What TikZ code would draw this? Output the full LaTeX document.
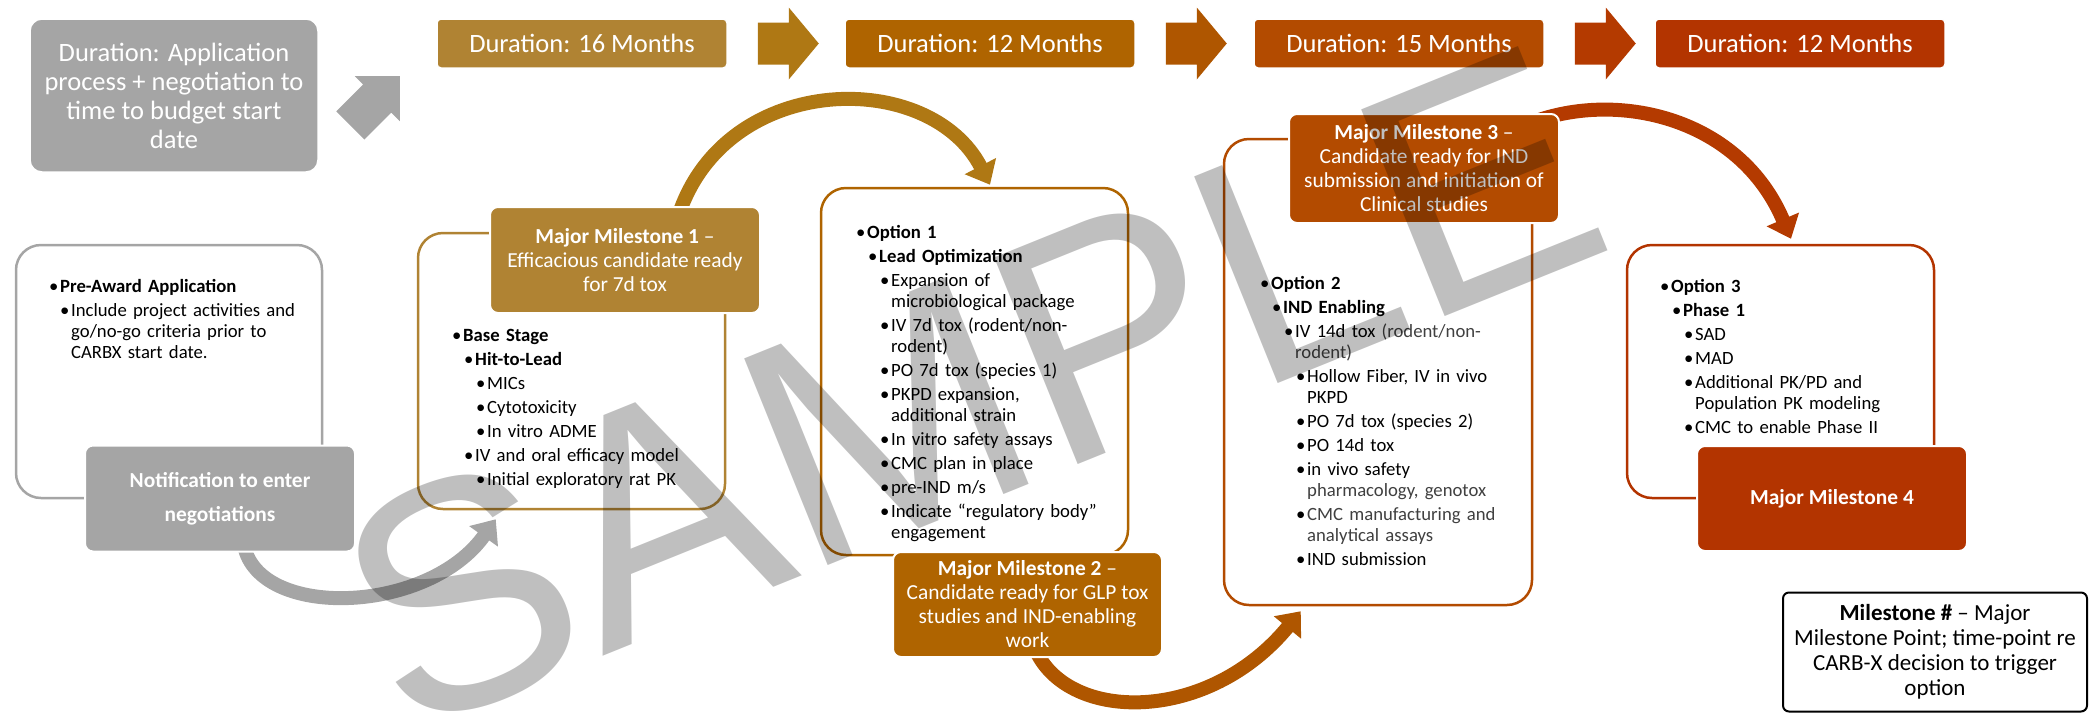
\documentclass[tikz,border=0pt]{standalone}
\usepackage{fontspec}
\setmainfont{Carlito}
\newfontfamily\markfont{Liberation Sans}
\usepackage{tikz}
\usetikzlibrary{arrows.meta,backgrounds}
\definecolor{greyc}{HTML}{A5A5A5}
\definecolor{c16}{HTML}{B08333}
\definecolor{ca1}{HTML}{AF7814}
\definecolor{c12}{HTML}{AF6400}
\definecolor{ca2}{HTML}{AF5600}
\definecolor{c15}{HTML}{B34B00}
\definecolor{ca3}{HTML}{B43A00}
\definecolor{c12b}{HTML}{B33400}
\definecolor{dgrey}{HTML}{404040}
\newcommand\itm[2]{\par\parskip=3pt\leftskip=#1pt\relax\noindent\llap{\makebox[11pt][l]{\textbullet}}\strut#2}
\newcommand\durarrow[2]{\fill[#2] ([xshift=30pt]#1.east) ++(0,-21) -- ++(31,0) -- ++(0,-15) -- ++(30,36) -- ++(-30,36) -- ++(0,-15) -- ++(-31,0) -- cycle;}
\tikzset{
	durbox/.style={rectangle, rounded corners=4pt, minimum width=290pt, minimum height=49pt, inner sep=0pt, draw=white, line width=1.5pt, text=white, align=center, font=\fontsize{26.5}{29}\selectfont},
	panel/.style={rectangle, rounded corners=25pt, line width=2.5pt, fill=white, inner sep=0pt},
	mshead/.style={rectangle, rounded corners=8pt, draw=white, line width=2pt, text=white, align=center, inner sep=0pt, minimum width=270pt, minimum height=106pt, font=\fontsize{21.4}{24}\selectfont},
	itemlist/.style={anchor=north west, inner sep=0pt, text width=280pt, align=left, font=\fontsize{18.7}{21}\selectfont},
	bigarrow/.style={line width=14pt, -{Triangle[width=34pt,length=21pt]}},
	legendbox/.style={rectangle, rounded corners=6pt, draw=black, line width=2pt, align=center, inner sep=0pt, font=\fontsize{23}{25}\selectfont},
	wmark/.style={text=black, text opacity=0.25, rotate=22, inner sep=0pt, font=\markfont\fontsize{324}{324}\selectfont}
}
\begin{document}
\begin{tikzpicture}[x=1pt,y=-1pt]
\useasboundingbox (0,0) rectangle (2093,713);

% time line
\node[durbox, fill=greyc, minimum width=288pt, minimum height=153pt, rounded corners=12pt] (dur0) at (174,95.5) {Duration: Application\\process + negotiation to\\time to budget start\\date};
\node[durbox, fill=c16] (dur1) at (582,43.5) {Duration: 16 Months};
\node[durbox, fill=c12] (dur2) at (990,43.5) {Duration: 12 Months};
\node[durbox, fill=c15] (dur3) at (1399,43.5) {Duration: 15 Months};
\node[durbox, fill=c12b] (dur4) at (1800,43.5) {Duration: 12 Months};
\durarrow{dur1}{ca1}
\durarrow{dur2}{ca2}
\durarrow{dur3}{ca3}
\fill[greyc] (dur0.east) ++(17.5,15.8) -- ++(26.9,-26.9) -- ++(-8.4,-8.4) -- ++(45,0) -- ++(0,45) -- ++(-8.4,-8.4) -- ++(-26.9,26.9) -- cycle;

% stage panels
\node[panel, draw=greyc, minimum width=306pt, minimum height=253pt] (pre) at (169,371.5) {};
\node[panel, draw=c16, minimum width=307pt, minimum height=276pt] (m1box) at (571.5,371) {};
\node[panel, draw=c12, minimum width=307pt, minimum height=367pt] (opt1) at (974.5,371.5) {};
\node[panel, draw=c15, minimum width=308pt, minimum height=466pt] (opt2) at (1378,372) {};
\node[panel, draw=c12b, minimum width=307pt, minimum height=253pt] (opt3) at (1780.5,371.5) {};

\node[itemlist] (prelist) at (50,268) {
	\itm{10}{\textbf{Pre-Award Application}}
	\itm{21}{Include project activities and\newline go/no-go criteria prior to\newline CARBX start date.}\par};
\node[itemlist] (m1list) at (453,317) {
	\itm{10}{\textbf{Base Stage}}
	\itm{22}{\textbf{Hit-to-Lead}}
	\itm{34}{MICs}
	\itm{34}{Cytotoxicity}
	\itm{34}{In vitro ADME}
	\itm{22}{IV and oral efficacy model}
	\itm{34}{Initial exploratory rat PK}\par};
\node[itemlist] (opt1list) at (857,214) {
	\itm{10}{\textbf{Option 1}}
	\itm{22}{\textbf{Lead Optimization}}
	\itm{34}{Expansion of\newline microbiological package}
	\itm{34}{IV 7d tox (rodent/non-\newline rodent)}
	\itm{34}{PO 7d tox (species 1)}
	\itm{34}{PKPD expansion,\newline additional strain}
	\itm{34}{In vitro safety assays}
	\itm{34}{CMC plan in place}
	\itm{34}{pre-IND m/s}
	\itm{34}{Indicate “regulatory body”\newline engagement}\par};
\node[itemlist] (opt2list) at (1261,265) {
	\itm{10}{\textbf{Option 2}}
	\itm{22}{\textbf{IND Enabling}}
	\itm{34}{IV 14d tox {\color{dgrey}(rodent/non-\newline rodent)}}
	\itm{46}{Hollow Fiber, IV in vivo\newline PKPD}
	\itm{46}{PO 7d tox (species 2)}
	\itm{46}{PO 14d tox}
	\itm{46}{in vivo safety\newline {\color{dgrey}pharmacology, genotox}}
	\itm{46}{{\color{dgrey}CMC manufacturing and\newline analytical assays}}
	\itm{46}{IND submission}\par};
\node[itemlist] (opt3list) at (1661,268) {
	\itm{10}{\textbf{Option 3}}
	\itm{22}{\textbf{Phase 1}}
	\itm{34}{SAD}
	\itm{34}{MAD}
	\itm{34}{Additional PK/PD and\newline Population PK modeling}
	\itm{34}{CMC to enable Phase II}\par};

% milestones
\node[mshead, fill=greyc, font=\bfseries\fontsize{21.4}{34}\selectfont] (notif) at (220,498.5) {Notification to enter\\negotiations};
\node[mshead, fill=c16] (m1head) at (625,260) {\textbf{Major Milestone 1} –\\Efficacious candidate ready\\for 7d tox};
\node[mshead, fill=c12, minimum width=269pt, minimum height=105pt] (m2head) at (1027.5,604.5) {\textbf{Major Milestone 2} –\\Candidate ready for GLP tox\\studies and IND-enabling\\work};
\node[mshead, fill=c15, minimum height=109pt] (m3head) at (1424,168.5) {\textbf{Major Milestone 3} –\\Candidate ready for IND\\submission and initiation of\\Clinical studies};
\node[mshead, fill=c12b, minimum height=105pt, font=\bfseries\fontsize{21.4}{24}\selectfont] (m4head) at (1832,498.5) {Major Milestone 4};

% curved hand-overs
\begin{scope}[on background layer]
\draw[bigarrow, greyc] ([shift={(25,-3)}]notif.south) .. controls +(20,70) and +(-67,94) .. ([shift={(79,9)}]m1box.south west);
\draw[bigarrow, ca1] ([shift={(55,5)}]m1head.north) .. controls +(50,-140) and +(-60,-116) .. ([shift={(15.5,-2)}]opt1.north);
\draw[bigarrow, ca2] ([shift={(8.5,-7)}]m2head.south) .. controls +(34,72) and +(-92,112) .. ([shift={(78,5)}]opt2.south west);
\draw[bigarrow, ca3] ([shift={(-24,8)}]m3head.north east) .. controls +(85,-30) and +(-51,-120) .. ([shift={(10.5,-5)}]opt3.north);
\end{scope}

\node[legendbox, minimum width=304pt, minimum height=119pt] (legend) at (1935,652) {\textbf{Milestone \#} – Major\\Milestone Point; time-point re\\CARB-X decision to trigger\\option};

\node[wmark] (wm) at (970,388) {SAMPLE};
\end{tikzpicture}
\end{document}
